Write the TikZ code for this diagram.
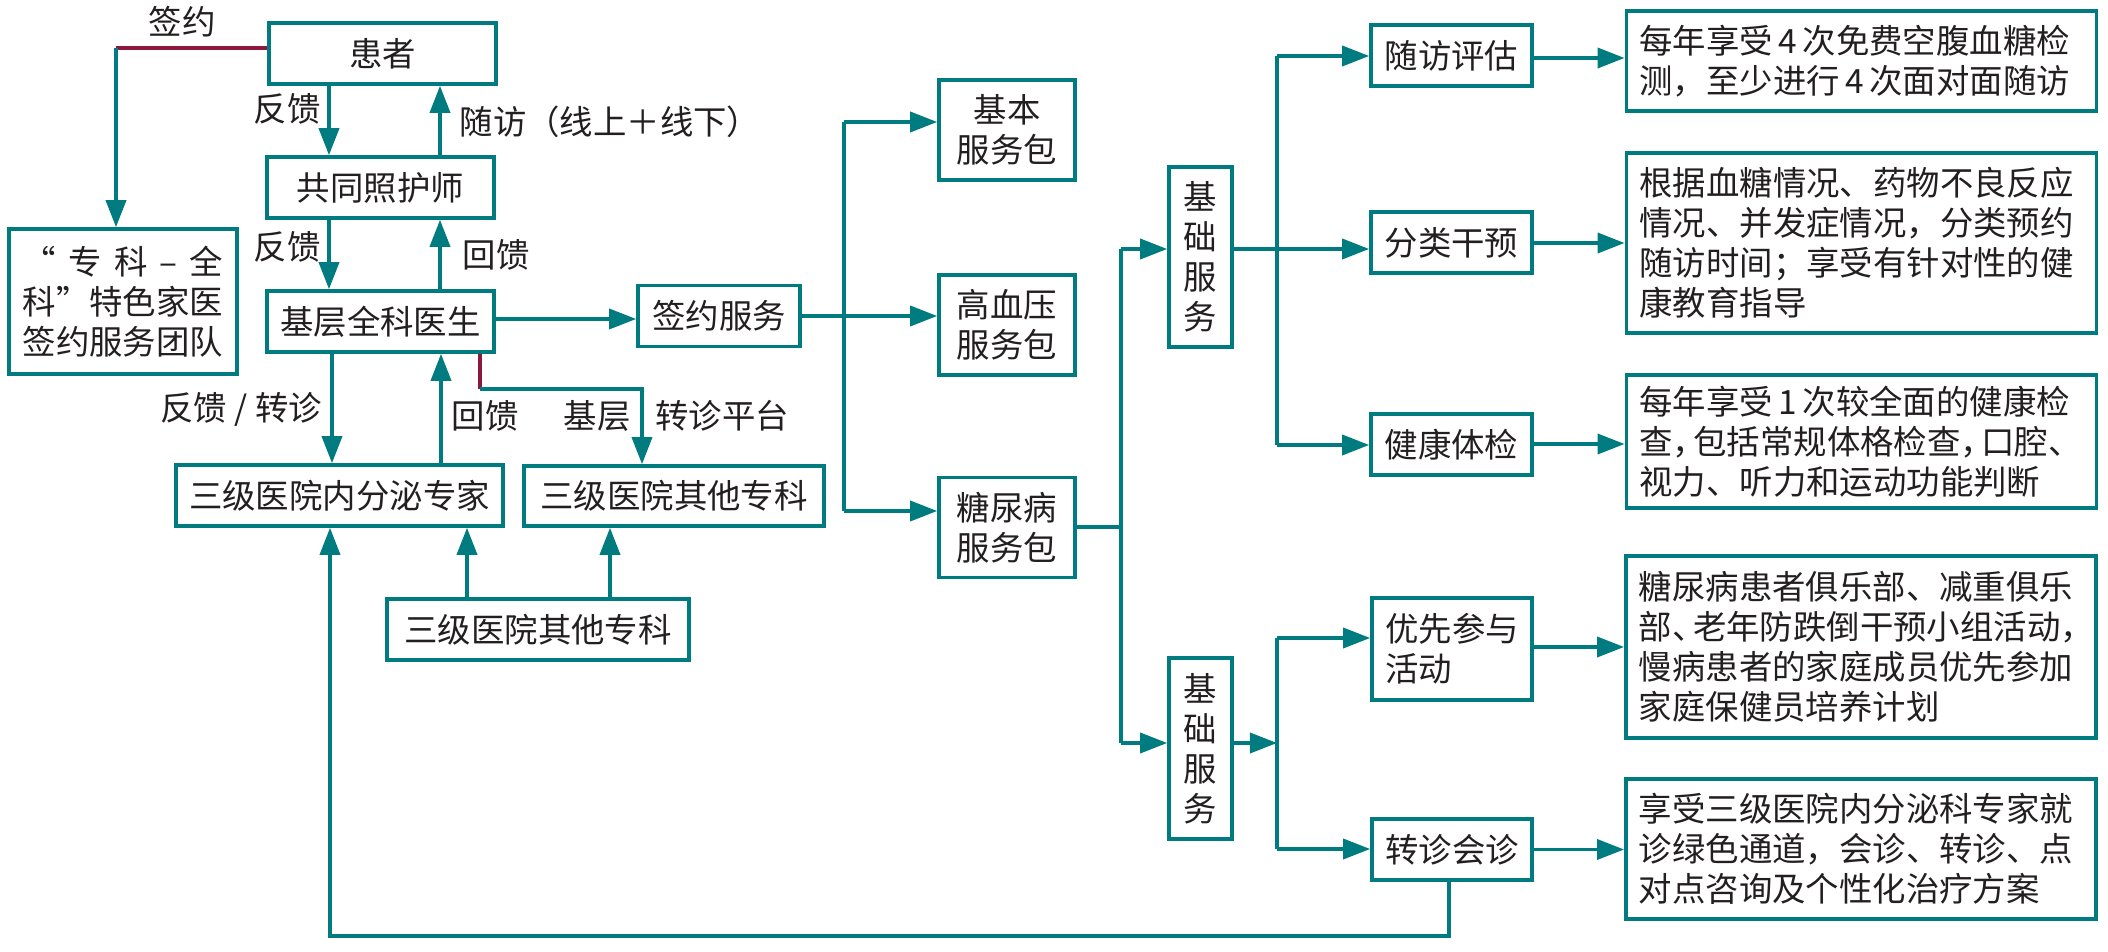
\documentclass[tikz,border=0pt]{standalone}
\usepackage{fontspec}
\setmainfont{Noto Sans CJK SC}
\usetikzlibrary{arrows.meta}
\definecolor{tl}{RGB}{0,124,128}
\definecolor{crim}{RGB}{140,24,60}
\definecolor{ink}{RGB}{35,31,32}
\newcommand\hc[1]{\makebox[0.62em][l]{#1}}
\begin{document}
\begin{tikzpicture}[x=0.01cm,y=-0.01cm,
  every node/.style={font=\fontsize{9.5pt}{11.4pt}\selectfont, text=ink},
  box/.style={draw=tl, line width=1pt, inner sep=0pt, align=center},
  dbox/.style={draw=tl, line width=1pt, inner xsep=0.13cm, inner ysep=0pt, align=left, text width=4.44cm},
  lab/.style={inner sep=0pt},
  ln/.style={draw=tl, line width=1pt},
  cln/.style={draw=crim, line width=1pt},
  arr/.style={draw=tl, line width=1pt, -{Triangle[length=0.27cm,width=0.2cm]}},
]
\useasboundingbox (0,0) rectangle (2108,952);

% boxes
\node[box, minimum width=2.27cm, minimum height=0.61cm] (patient) at (382.5,53.5) {患者};
\node[box, minimum width=2.28cm, minimum height=1.45cm, align=left] (team) at (123,301.5)
  {\makebox[1em][r]{“}\makebox[5em][s]{\hfil 专\hfil 科\hfil –\hfil 全}\\科\makebox[1em][l]{”}特色家医\\签约服务团队};
\node[box, minimum width=2.27cm, minimum height=0.61cm] (nurse) at (380.5,187.5) {共同照护师};
\node[box, minimum width=2.27cm, minimum height=0.61cm] (gp) at (380.5,321.5) {基层全科医生};
\node[box, minimum width=1.62cm, minimum height=0.61cm] (sign) at (719,316) {签约服务};
\node[box, minimum width=1.36cm, minimum height=1.00cm] (pkg1) at (1007,130) {基本\\服务包};
\node[box, minimum width=1.36cm, minimum height=1.00cm] (pkg2) at (1007,325) {高血压\\服务包};
\node[box, minimum width=1.36cm, minimum height=1.00cm] (pkg3) at (1007,527.5) {糖尿病\\服务包};
\node[box, minimum width=0.63cm, minimum height=1.80cm] (bs1) at (1200.5,257) {基\\础\\服\\务};
\node[box, minimum width=0.63cm, minimum height=1.81cm] (bs2) at (1200.5,748.5) {基\\础\\服\\务};
\node[box, minimum width=1.61cm, minimum height=0.61cm] (sf) at (1451.5,55.5) {随访评估};
\node[box, minimum width=1.61cm, minimum height=0.61cm] (fl) at (1451.5,242.5) {分类干预};
\node[box, minimum width=1.61cm, minimum height=0.61cm] (jk) at (1451.5,444.5) {健康体检};
\node[box, minimum width=1.60cm, minimum height=1.02cm, align=left] (yx) at (1452,649) {优先参与\\活动};
\node[box, minimum width=1.60cm, minimum height=0.61cm] (zz) at (1452,849.5) {转诊会诊};
\node[dbox, minimum height=1.00cm] (d1) at (1861.5,61)
  {每年享受\,4\,次免费空腹血糖检\\测，至少进行\,4\,次面对面随访};
\node[dbox, minimum height=1.80cm] (d2) at (1861.5,243)
  {根据血糖情况、药物不良反应\\情况、并发症情况，分类预约\\随访时间；享受有针对性的健\\康教育指导};
\node[dbox, minimum height=1.33cm] (d3) at (1861.5,441.5)
  {每年享受\,1\,次较全面的健康检\\查\hc{，}包括常规体格检查\hc{，}口腔\hc{、}\\视力、听力和运动功能判断};
\node[dbox, minimum height=1.82cm] (d4) at (1861,647)
  {糖尿病患者俱乐部、减重俱乐\\部\hc{、}老年防跌倒干预小组活动\hc{，}\\慢病患者的家庭成员优先参加\\家庭保健员培养计划};
\node[dbox, minimum height=1.40cm] (d5) at (1861,849)
  {享受三级医院内分泌科专家就\\诊绿色通道，会诊、转诊、点\\对点咨询及个性化治疗方案};
\node[box, minimum width=3.27cm, minimum height=0.61cm] (nfm) at (339.5,495.5) {三级医院内分泌专家};
\node[box, minimum width=3.00cm, minimum height=0.60cm] (other1) at (674,496) {三级医院其他专科};
\node[box, minimum width=3.02cm, minimum height=0.61cm] (other2) at (538,629.5) {三级医院其他专科};

% labels
\node[lab] (l1) at (182,22) {签约};
\node[lab] (l2) at (287,109) {反馈};
\node[lab, anchor=west] (l3) at (459,122) {随访（线上＋线下）};
\node[lab] (l4) at (287,247) {反馈};
\node[lab] (l5) at (496,255) {回馈};
\node[lab] (l6) at (241,409) {反馈 / 转诊};
\node[lab] (l7) at (485,416) {回馈};
\node[lab] (l8) at (597,416) {基层};
\node[lab] (l9) at (722,416) {转诊平台};

% coordinates
\coordinate (xa) at (329,0);
\coordinate (xb) at (440,0);
\coordinate (c1) at (116,48);
\coordinate (y319) at (0,319);
\coordinate (j1) at (844,316);
\coordinate (j1top) at (844,122);
\coordinate (j1bot) at (844,511);
\coordinate (j2) at (1121,527);
\coordinate (j2top) at (1121,249);
\coordinate (j2bot) at (1121,743);
\coordinate (j3top) at (1277,56);
\coordinate (j3bot) at (1277,445);
\coordinate (y58) at (0,58);
\coordinate (y243) at (0,243);
\coordinate (y444) at (0,444);
\coordinate (j4) at (1277,743);
\coordinate (j4top) at (1277,638);
\coordinate (j4bot) at (1277,849);
\coordinate (y647) at (0,647);
\coordinate (xz) at (1449,0);
\coordinate (k1) at (1449,936);
\coordinate (k2) at (330,936);
\coordinate (x332) at (332,0);
\coordinate (x441) at (441,0);
\coordinate (x480) at (480,0);
\coordinate (m1) at (480,389);
\coordinate (m2) at (642,389);
\coordinate (x467) at (467,0);
\coordinate (x610) at (610,0);

% connectors
\draw[cln] (patient.west |- c1) -- (c1);
\draw[arr] (c1) -- (c1 |- team.north);
\draw[arr] (patient.south -| xa) -- (nurse.north -| xa);
\draw[arr] (nurse.north -| xb) -- (patient.south -| xb);
\draw[arr] (nurse.south -| xa) -- (gp.north -| xa);
\draw[arr] (gp.north -| xb) -- (nurse.south -| xb);
\draw[arr] (gp.east |- y319) -- (sign.west |- y319);
\draw[ln] (sign.east) -- (j1);
\draw[ln] (j1top) -- (j1bot);
\draw[arr] (j1top) -- (pkg1.west |- j1top);
\draw[arr] (j1) -- (pkg2.west |- j1);
\draw[arr] (j1bot) -- (pkg3.west |- j1bot);
\draw[ln] (pkg3.east |- j2) -- (j2);
\draw[ln] (j2top) -- (j2bot);
\draw[arr] (j2top) -- (bs1.west |- j2top);
\draw[arr] (j2bot) -- (bs2.west |- j2bot);
\draw[arr] (bs1.east |- j2top) -- (fl.west |- j2top);
\draw[ln] (j3top) -- (j3bot);
\draw[arr] (j3top) -- (sf.west |- j3top);
\draw[arr] (j3bot) -- (jk.west |- j3bot);
\draw[arr] (sf.east |- y58) -- (d1.west |- y58);
\draw[arr] (fl.east |- y243) -- (d2.west |- y243);
\draw[arr] (jk.east |- y444) -- (d3.west |- y444);
\draw[arr] (bs2.east |- j4) -- (j4);
\draw[ln] (j4top) -- (j4bot);
\draw[arr] (j4top) -- (yx.west |- j4top);
\draw[arr] (j4bot) -- (zz.west |- j4bot);
\draw[arr] (yx.east |- y647) -- (d4.west |- y647);
\draw[arr] (zz.east) -- (d5.west |- zz.east);
\draw[arr] (zz.south -| xz) -- (k1) -- (k2) -- (nfm.south -| k2);
\draw[arr] (gp.south -| x332) -- (nfm.north -| x332);
\draw[arr] (nfm.north -| x441) -- (gp.south -| x441);
\draw[cln] (gp.south -| x480) -- (m1);
\draw[arr] (m1) -- (m2) -- (m2 |- other1.north);
\draw[arr] (other2.north -| x467) -- (nfm.south -| x467);
\draw[arr] (other2.north -| x610) -- (other1.south -| x610);
\end{tikzpicture}
\end{document}
